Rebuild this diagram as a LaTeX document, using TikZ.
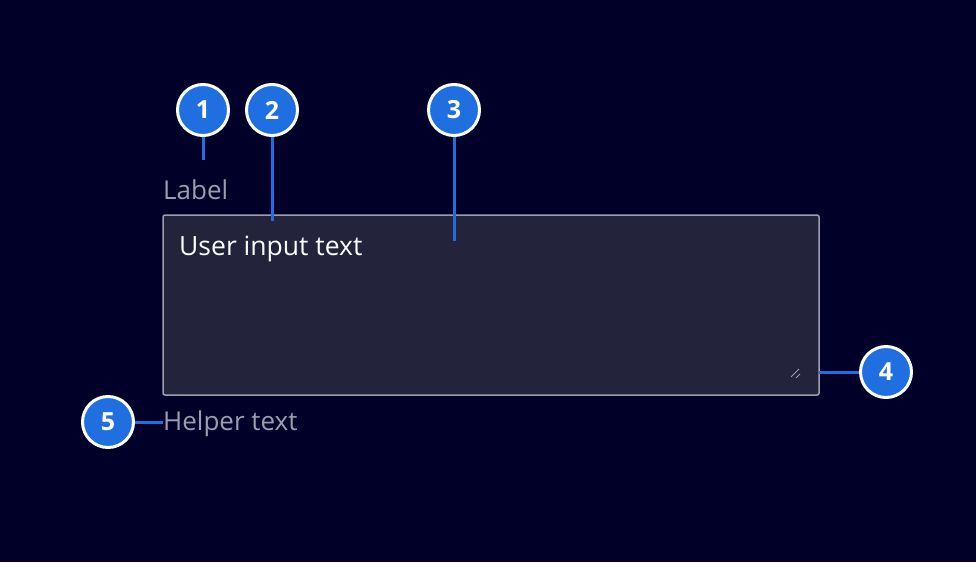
\documentclass[tikz,border=0pt]{standalone}
\usepackage{fontspec}
\setmainfont{Open Sans}
\definecolor{bgnavy}{HTML}{000028}
\definecolor{boxfill}{HTML}{23233C}
\definecolor{boxline}{HTML}{9D9DAF}
\definecolor{callblue}{HTML}{1F6FE0}
\tikzset{
  callout/.style={circle,draw=white,line width=3pt,fill=callblue,minimum size=51pt,inner sep=0pt,
    text=white,font=\fontsize{25}{30}\selectfont\bfseries},
  leader/.style={callblue,line width=3pt},
  hint/.style={text=boxline,font=\fontsize{26}{30}\selectfont,inner sep=0pt,anchor=base west}
}
\begin{document}
\begin{tikzpicture}[x=1pt,y=-1pt]
\fill[bgnavy] (0,0) rectangle (976,562);
\useasboundingbox (0,0) rectangle (976,562);
% text area
\draw[boxline,fill=boxfill,line width=1.5pt,rounded corners=2pt] (163,215) rectangle (819,395);
\draw[boxline,line width=1pt] (791,377) -- (799,369) (796,378) -- (800,374);
\node[text=white,font=\fontsize{26.5}{30}\selectfont,inner sep=0pt,anchor=base west] (input) at (179,255) {User input text};
\node[hint] (label) at (163,199) {Label};
\node[hint] (helper) at (163,430) {Helper text};
% callouts
\coordinate (t1) at (203,160);
\coordinate (t2) at (272,221);
\coordinate (t3) at (454,241);
\coordinate (t4) at (819,372);
\coordinate (t5) at (163,422);
\draw[leader] (203,110) -- (t1);
\draw[leader] (272,110) -- (t2);
\draw[leader] (454,110) -- (t3);
\draw[leader] (886,372) -- (t4);
\draw[leader] (108,422) -- (t5);
\node[callout] (c1) at (203,110) {1};
\node[callout] (c2) at (272,110) {2};
\node[callout] (c3) at (454,110) {3};
\node[callout] (c4) at (886,372) {4};
\node[callout] (c5) at (108,422) {5};
\end{tikzpicture}
\end{document}
